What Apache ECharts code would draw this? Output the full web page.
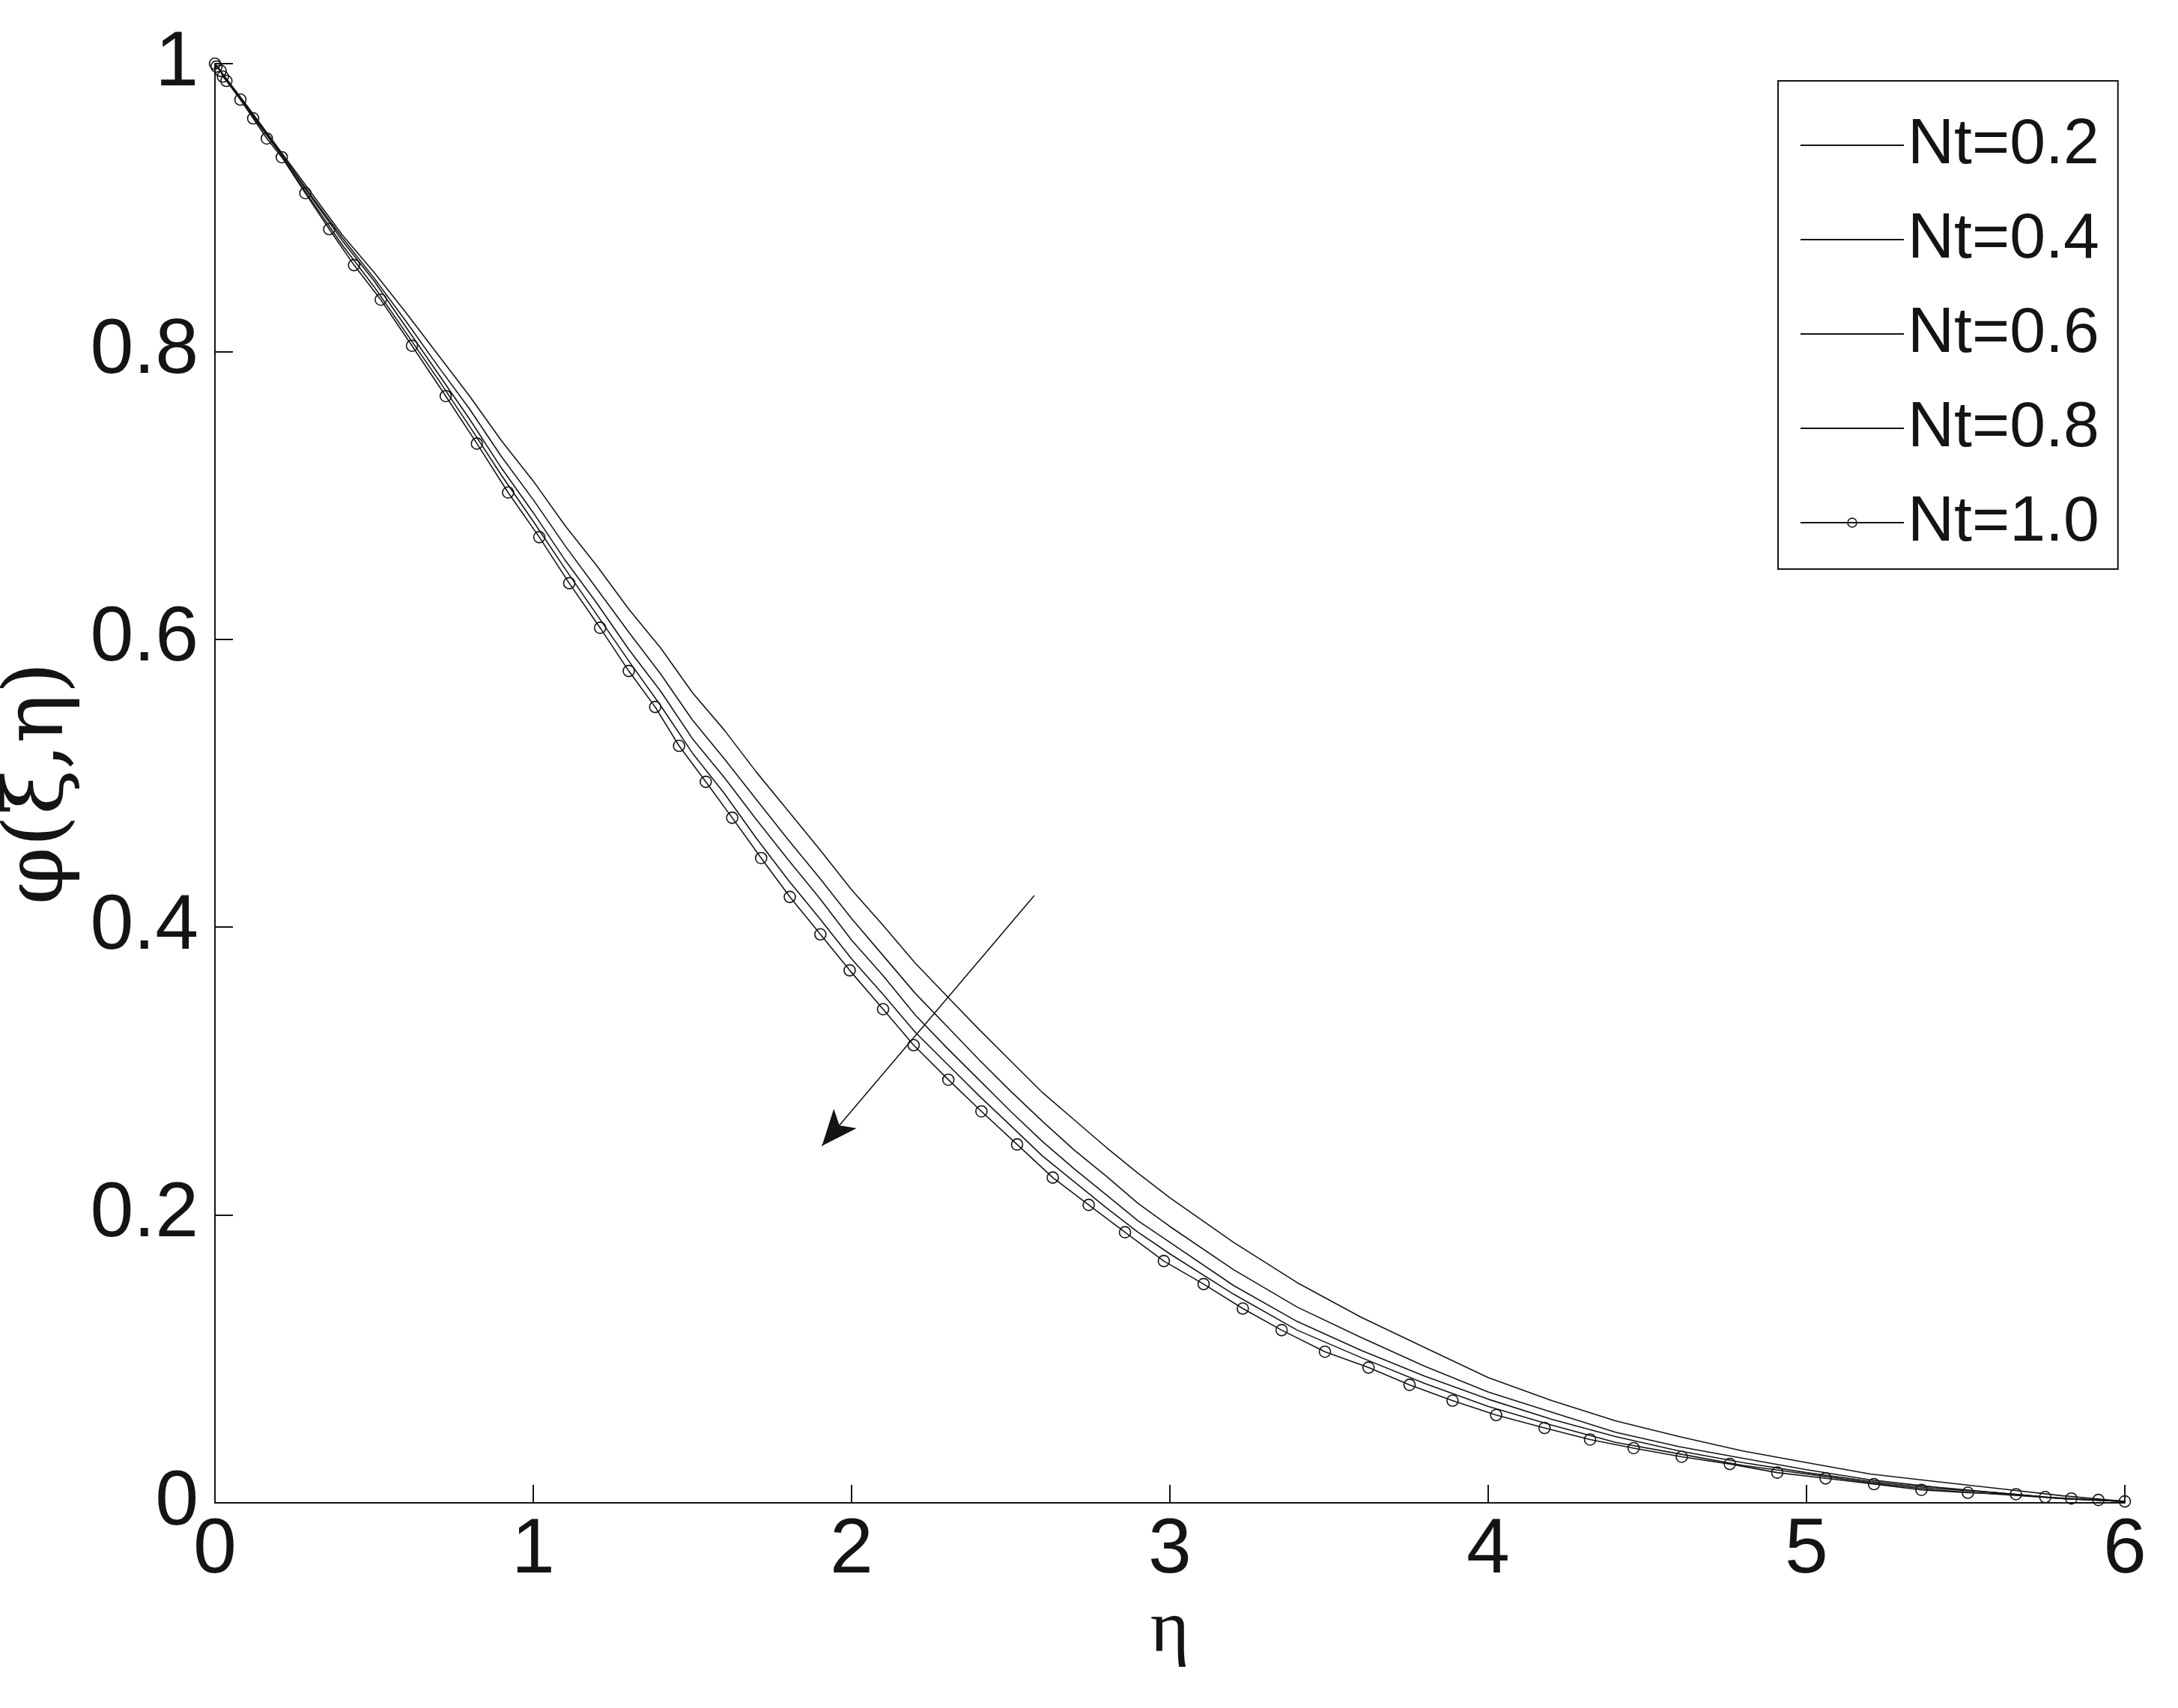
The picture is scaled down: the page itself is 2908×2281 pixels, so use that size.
<!DOCTYPE html>
<html>
<head>
<meta charset="utf-8">
<script src="https://cdn.jsdelivr.net/npm/echarts@6/dist/echarts.min.js"></script>
<style>
html,body{margin:0;padding:0;background:#fff;}
#c{width:2908px;height:2281px;}
</style>
</head>
<body>
<div id="c"></div>
<script>
// ---- data ----
const seriesNames = ['Nt=0.2', 'Nt=0.4', 'Nt=0.6', 'Nt=0.8', 'Nt=1.0'];
const xTicks = [0, 1, 2, 3, 4, 5, 6];
const yTicks = [0, 0.2, 0.4, 0.6, 0.8, 1];

const etaGrid = [0,0.1,0.2,0.3,0.4,0.5,0.6,0.7,0.8,0.9,1.0,1.1,1.2,1.3,1.4,1.5,1.6,1.7,1.8,1.9,2.0,2.1,2.2,2.3,2.4,2.5,2.6,2.7,2.8,2.9,3.0,3.2,3.4,3.6,3.8,4.0,4.2,4.4,4.6,4.8,5.0,5.2,5.4,5.6,5.8,6.0];
const nt02 = [1.0,0.971,0.941,0.911,0.881,0.855,0.827,0.798,0.769,0.738,0.710,0.679,0.651,0.621,0.594,0.563,0.537,0.508,0.481,0.454,0.426,0.401,0.375,0.352,0.329,0.307,0.285,0.266,0.247,0.229,0.212,0.181,0.153,0.129,0.108,0.087,0.071,0.057,0.046,0.036,0.028,0.020,0.015,0.010,0.005,0.001];
const nt04 = [1.0,0.970,0.940,0.909,0.879,0.851,0.821,0.790,0.760,0.727,0.697,0.665,0.635,0.605,0.576,0.544,0.517,0.489,0.461,0.434,0.406,0.380,0.354,0.331,0.308,0.286,0.265,0.245,0.227,0.208,0.192,0.162,0.136,0.115,0.095,0.077,0.063,0.049,0.039,0.031,0.023,0.016,0.011,0.007,0.003,0.001];
const nt06 = [1.0,0.970,0.940,0.908,0.877,0.849,0.817,0.785,0.753,0.719,0.688,0.655,0.625,0.593,0.564,0.531,0.504,0.475,0.447,0.420,0.391,0.366,0.339,0.316,0.294,0.272,0.251,0.232,0.214,0.196,0.181,0.151,0.126,0.106,0.088,0.072,0.058,0.046,0.036,0.028,0.021,0.015,0.010,0.007,0.003,0.001];
const nt08 = [1.0,0.969,0.939,0.906,0.874,0.845,0.813,0.781,0.748,0.714,0.682,0.649,0.617,0.585,0.554,0.521,0.493,0.462,0.433,0.406,0.378,0.353,0.327,0.305,0.283,0.262,0.241,0.223,0.205,0.188,0.173,0.145,0.120,0.101,0.083,0.067,0.054,0.042,0.034,0.026,0.020,0.014,0.009,0.006,0.003,0.001];

const etaCircle = [0,0.005,0.018,0.025,0.036,0.080,0.120,0.163,0.210,0.284,0.359,0.437,0.521,0.619,0.725,0.823,0.921,1.019,1.113,1.210,1.300,1.383,1.458,1.542,1.625,1.716,1.806,1.902,1.994,2.099,2.195,2.304,2.408,2.520,2.632,2.745,2.859,2.981,3.106,3.229,3.351,3.487,3.624,3.753,3.888,4.025,4.177,4.320,4.457,4.608,4.759,4.908,5.060,5.212,5.361,5.507,5.658,5.750,5.832,5.917,6.0];
const nt10 = [1.0,0.998,0.995,0.991,0.988,0.975,0.962,0.948,0.935,0.910,0.885,0.860,0.836,0.804,0.769,0.736,0.702,0.671,0.639,0.608,0.578,0.553,0.526,0.501,0.476,0.448,0.421,0.395,0.370,0.343,0.318,0.294,0.272,0.249,0.226,0.207,0.188,0.168,0.152,0.135,0.120,0.105,0.094,0.082,0.071,0.061,0.052,0.044,0.038,0.032,0.027,0.021,0.017,0.013,0.009,0.007,0.006,0.004,0.003,0.002,0.001];

// arrow (data coordinates): start -> end (head at end)
const arrowStart = [2.574, 0.422];
const arrowEnd = [1.907, 0.248];

// ---- build chart ----
const INK = '#141414';
const zip = (xs, ys) => xs.map((x, i) => [x, ys[i]]);
const plainValues = [nt02, nt04, nt06, nt08];

const series = plainValues.map((vals, i) => ({
  name: seriesNames[i],
  type: 'line',
  data: zip(etaGrid, vals),
  showSymbol: false,
  symbol: 'none',
  smooth: false,
  lineStyle: { color: INK, width: 1.6 },
  itemStyle: { color: INK },
  z: 3
}));

series.push({
  name: seriesNames[4],
  type: 'line',
  data: zip(etaCircle, nt10),
  symbol: 'circle',
  symbolSize: 15,
  showAllSymbol: true,
  smooth: false,
  lineStyle: { color: INK, width: 1.6 },
  itemStyle: { color: 'none', borderColor: INK, borderWidth: 1.6 },
  z: 4,
  markLine: {
    silent: true,
    animation: false,
    label: { show: false },
    lineStyle: { color: INK, width: 1.6, type: 'solid' },
    symbol: ['none', 'arrow'],
    symbolSize: [30, 48],
    data: [[{ coord: arrowStart }, { coord: arrowEnd }]]
  }
});

const legendData = seriesNames.map((n, i) => (i < 4
  ? { name: n, itemStyle: { color: 'rgba(0,0,0,0)', borderColor: 'rgba(0,0,0,0)', borderWidth: 0 } }
  : { name: n, itemStyle: { color: 'rgba(0,0,0,0)', borderColor: INK, borderWidth: 1.6 } }));

const chart = echarts.init(document.getElementById('c'), null, { renderer: 'canvas' });
chart.setOption({
  animation: false,
  backgroundColor: '#ffffff',
  grid: { left: 287, right: 71, top: 85, bottom: 274, containLabel: false, outerBoundsMode: 'none' },
  xAxis: {
    type: 'value',
    min: xTicks[0],
    max: xTicks[xTicks.length - 1],
    interval: 1,
    name: 'η',
    nameLocation: 'middle',
    nameGap: 122,
    nameTextStyle: { fontFamily: 'Liberation Serif', fontSize: 100, color: INK },
    axisLine: { show: true, onZero: false, lineStyle: { color: INK, width: 2 } },
    axisTick: { show: true, inside: true, length: 24, lineStyle: { color: INK, width: 2 } },
    axisLabel: { fontFamily: 'Liberation Sans, Arial', fontSize: 104, color: INK, margin: 12 },
    splitLine: { show: false }
  },
  yAxis: {
    type: 'value',
    min: yTicks[0],
    max: yTicks[yTicks.length - 1],
    interval: 0.2,
    name: 'φ(ξ,η)',
    nameLocation: 'middle',
    nameRotate: 90,
    nameGap: 166,
    nameTextStyle: { fontFamily: 'DejaVu Serif', fontSize: 110, color: INK },
    axisLine: { show: true, onZero: false, lineStyle: { color: INK, width: 2 } },
    axisTick: { show: true, inside: true, length: 24, lineStyle: { color: INK, width: 2 } },
    axisLabel: { fontFamily: 'Liberation Sans, Arial', fontSize: 104, color: INK, margin: 22 },
    splitLine: { show: false }
  },
  legend: {
    orient: 'vertical',
    left: 2374,
    top: 108,
    align: 'left',
    data: legendData,
    backgroundColor: '#fff',
    borderColor: INK,
    borderWidth: 2,
    borderRadius: 0,
    padding: [36, 25, 12, 29],
    itemWidth: 138,
    itemHeight: 15,
    itemGap: 26,
    textStyle: { fontFamily: 'Liberation Sans, Arial', fontSize: 86, color: INK, lineHeight: 100, padding: [0, 0, 0, 0] },
    inactiveColor: INK
  },
  series: series
});
</script>
</body>
</html>
